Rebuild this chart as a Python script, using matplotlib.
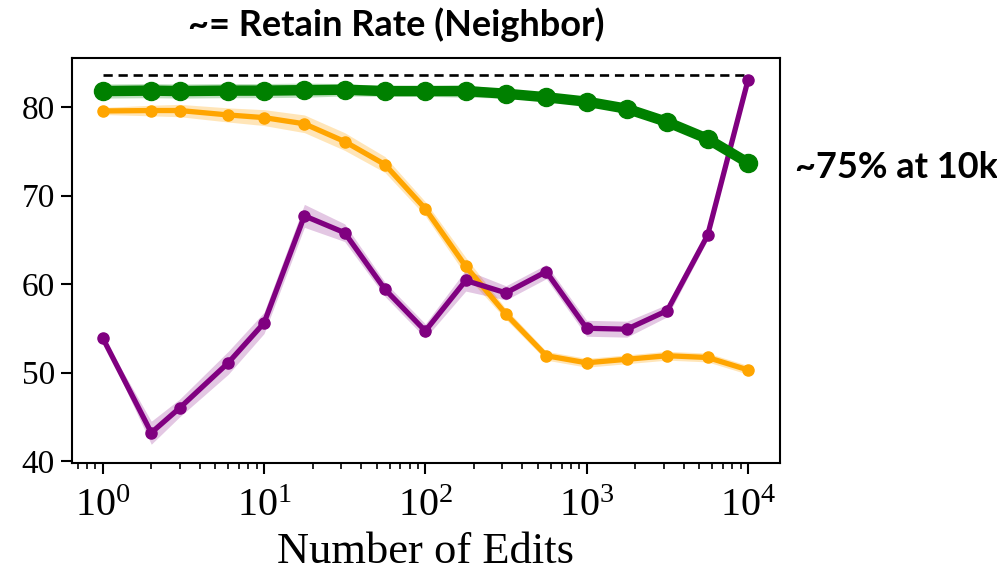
import numpy as np
import matplotlib
matplotlib.use("Agg")
import matplotlib.pyplot as plt

edits = [1, 2, 3, 6, 10, 17.8, 31.6, 56.2, 100, 178, 316, 562, 1000, 1778, 3162, 5623, 10000]
green = [81.8, 81.85, 81.8, 81.85, 81.85, 81.9, 81.95, 81.8, 81.8, 81.8, 81.5, 81.1, 80.6, 79.8, 78.3, 76.4, 73.7]
green_err = [0.8, 0.8, 0.8, 0.8, 0.8, 0.8, 0.7, 0.6, 0.6, 0.7, 0.5, 0.45, 0.4, 0.4, 0.4, 0.4, 0.3]
orange = [79.55, 79.6, 79.6, 79.1, 78.8, 78.1, 76.1, 73.5, 68.5, 62.0, 56.6, 51.9, 51.1, 51.5, 51.9, 51.7, 50.3]
orange_err = [0.4, 0.6, 0.7, 0.8, 0.9, 1.0, 1.0, 0.9, 0.8, 1.0, 0.6, 0.5, 0.5, 0.5, 0.5, 0.5, 0.5]
purple = [53.9, 43.2, 46.0, 51.1, 55.6, 67.7, 65.8, 59.4, 54.7, 60.4, 59.0, 61.4, 55.0, 54.9, 57.0, 65.5, 83.0]
purple_err = [0.2, 1.3, 1.0, 1.3, 1.2, 1.3, 1.0, 0.8, 0.8, 1.2, 0.8, 0.8, 0.9, 0.9, 0.7, 0.5, 0.1]
baseline = 83.6

title_text = "~= Retain Rate (Neighbor)"
note_text = "~75% at 10k"
xlabel_text = "Number of Edits"

plt.rcParams['mathtext.fontset'] = 'custom'
plt.rcParams['mathtext.rm'] = 'Liberation Serif'
plt.rcParams['mathtext.it'] = 'Liberation Serif:italic'
plt.rcParams['font.family'] = ['Liberation Serif', 'DejaVu Serif']

fig = plt.figure(figsize=(9.97, 5.75), dpi=100)
ax = fig.add_axes([0.0719, 0.1943, 0.7104, 0.7043])

x = np.array(edits)
def draw(vals, errs, color, lw, ms, alpha):
    v = np.array(vals); e = np.array(errs)
    ax.fill_between(x, v - e, v + e, color=color, alpha=alpha, lw=0)
    ax.plot(x, v, color=color, lw=lw, marker='o', ms=ms, solid_capstyle='round')

ax.plot([edits[0], edits[-1]], [baseline, baseline], color='black', lw=1.9, ls=(0, (3.5, 2.2)))
draw(orange, orange_err, 'orange', 3.8, 8, 0.28)
draw(purple, purple_err, 'purple', 3.8, 8, 0.22)
draw(green, green_err, 'green', 7.5, 13, 0.25)

ax.set_xscale('log')
ax.set_xlim(0.642, 15800)
ax.set_ylim(39.75, 85.5)
ax.set_yticks([40, 50, 60, 70, 80])
ax.tick_params(axis='y', which='major', labelsize=24, length=8, width=1.5, direction='out', pad=4)
ax.tick_params(axis='x', which='major', labelsize=29, length=8, width=1.5, direction='out', pad=10)
ax.tick_params(axis='x', which='minor', length=4.5, width=1.2, direction='out')
for s in ax.spines.values():
    s.set_linewidth(1.5)
ax.set_xlabel(xlabel_text, fontsize=32, labelpad=5)

fig.text(396/997, 1 - 25/575, title_text, ha='center', va='center', fontsize=26,
         fontweight='bold', family=['Lato', 'DejaVu Sans'])
fig.text(795/997, 1 - 168/575, note_text, ha='left', va='center', fontsize=26,
         fontweight='bold', family=['Lato', 'DejaVu Sans'])

fig.savefig('out.png', dpi=100)
